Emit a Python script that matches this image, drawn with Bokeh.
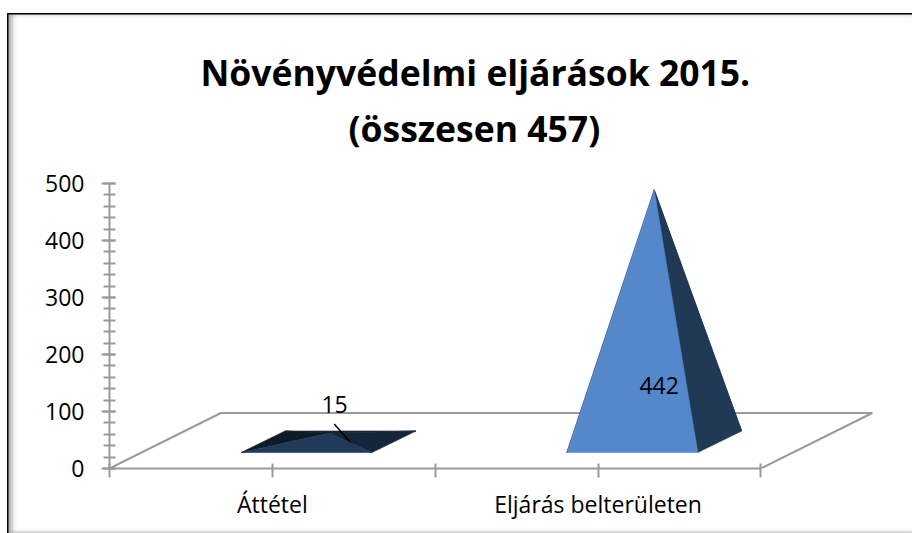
from bokeh.plotting import figure
from bokeh.models import (Range1d, Title, FixedTicker, LinearAxis)
from bokeh.core.properties import value
from bokeh.embed import file_html
from bokeh.resources import INLINE

# ---- data -------------------------------------------------------------
categories = ["Áttétel", "Eljárás belterületen"]
category_pos = [0.5, 1.5]
values = [15, 442]
y_ticks = [0, 100, 200, 300, 400, 500]
title_lines = ["Növényvédelmi eljárások 2015.", "(összesen 457)"]

# ---- projection of the fake 3D floor (data units) -----------------------
FLOOR_DX, FLOOR_DY = 0.342, 97.4
BAR_W = 0.402
FRONT_DX, BACK_DX = 0.105, 0.240
FRONT_DY, BACK_DY = 28.0, 65.8

FONT = "Open Sans"
AXIS = "#9a9a9a"
LEFT, TOP = 7, 13
W, H = 912 - LEFT, 533 - TOP

p = figure(width=W, height=H, output_backend="svg", toolbar_location=None,
           x_range=Range1d(0, (W - 102.5) / 325.5), y_range=Range1d(0, 500),
           x_axis_location=None, y_axis_location=None,
           min_border_left=102, min_border_right=0, min_border_top=170,
           min_border_bottom=65, outline_line_color=None,
           background_fill_color=None, border_fill_color=None, title=None,
           margin=(TOP, 0, 0, LEFT))
p.grid.visible = False

# chart border: black line and soft shadow
p.styles = {"box-shadow": "inset 1.5px 1.5px 0 0 #000000, "
                          "inset 7px 3px 5px -2px #a8a8a8, "
                          "inset 0 -4px 3px -2px #cfcfcf",
            "background-color": "white"}

# titles
for line, off, left in ((title_lines[1], 64, 239), (title_lines[0], -52, 91)):
    t = Title(text=line, align="left", offset=left, text_font=FONT,
              text_font_size="35.5px", text_font_style="bold", text_color="black",
              standoff=off)
    p.add_layout(t, "above")

# axes
ya = LinearAxis(ticker=FixedTicker(ticks=y_ticks, minor_ticks=list(range(0, 501, 20))),
                axis_line_color=AXIS, axis_line_width=2,
                major_tick_line_color=AXIS, major_tick_line_width=2,
                minor_tick_line_color=AXIS, minor_tick_line_width=2,
                major_tick_out=8, major_tick_in=6, minor_tick_out=6, minor_tick_in=6,
                major_label_standoff=17, major_label_text_font=FONT,
                major_label_text_font_size="23px", major_label_text_color="black")
p.add_layout(ya, "left")

x_tick_labels = {0: "", 0.5: categories[0], 1: "", 1.5: categories[1], 2: ""}
xa = LinearAxis(ticker=FixedTicker(ticks=[0, 0.5, 1, 1.5, 2]), bounds=(0, 2),
                major_label_overrides=x_tick_labels,
                axis_line_color=AXIS, axis_line_width=2,
                major_tick_line_color=AXIS, major_tick_line_width=2,
                minor_tick_line_color=None,
                major_tick_out=9, major_tick_in=5,
                major_label_standoff=10, major_label_text_font=FONT,
                major_label_text_font_size="23px", major_label_text_color="black")
p.add_layout(xa, "below")

# floor
p.line([0, FLOOR_DX, 2 + FLOOR_DX, 2], [0, FLOOR_DY, FLOOR_DY, 0],
       line_color=AXIS, line_width=2)

# pyramids
FACES = {
    "front": ["#203a57", "#5588cb"],
    "right": ["#16263a", "#203a56"],
    "left": ["#0f1a27", "#0f1a27"],
    "back": ["#16263a", "#16263a"],
}
for i, (cx, v) in enumerate(zip(category_pos, values)):
    fl = cx - BAR_W / 2 + FRONT_DX
    fr = cx + BAR_W / 2 + FRONT_DX
    bl = cx - BAR_W / 2 + BACK_DX
    br = cx + BAR_W / 2 + BACK_DX
    ax = cx + (FRONT_DX + BACK_DX) / 2
    ay = (FRONT_DY + BACK_DY) / 2 + v
    polys = [("back", [bl, br, ax], [BACK_DY, BACK_DY, ay]),
             ("left", [fl, bl, ax], [FRONT_DY, BACK_DY, ay]),
             ("right", [fr, br, ax], [FRONT_DY, BACK_DY, ay]),
             ("front", [fl, fr, ax], [FRONT_DY, FRONT_DY, ay])]
    for face, xs, ys in polys:
        p.patch(xs, ys, fill_color=FACES[face][i], line_color=FACES[face][i],
                line_width=0.6)

# data labels
label_x = [0.691, 1.6875]
label_y = [112, 146]
p.text(label_x, label_y, text=[str(v) for v in values], text_align="center",
       text_baseline="middle", text_font=value(FONT), text_font_size="23px",
       text_color="black")
# leader line of the small label
p.line([0.69, 0.739], [78, 46], line_color="black", line_width=1.5)

open("out.html", "w").write(file_html(p, INLINE))
